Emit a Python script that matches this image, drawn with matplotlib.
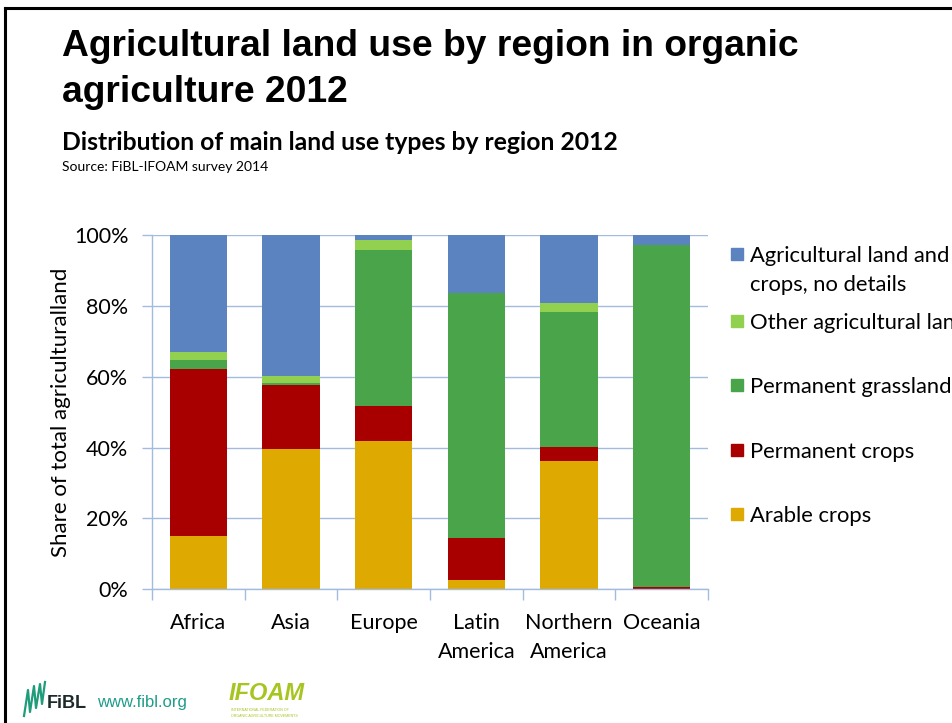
import matplotlib
matplotlib.use("Agg")
import matplotlib.pyplot as plt
from matplotlib.patches import Rectangle
import numpy as np

regions = ["Africa", "Asia", "Europe", "Latin\nAmerica", "Northern\nAmerica", "Oceania"]

# shares in percent, bottom to top
arable = [15.0, 39.5, 41.9, 2.6, 36.3, 0.1]
permanent_crops = [47.1, 18.2, 9.8, 12.0, 4.0, 0.6]
grassland = [2.6, 0.5, 44.1, 68.9, 38.1, 96.5]
other_land = [2.2, 2.1, 2.8, 0.2, 2.4, 0.0]
no_details = [33.1, 39.7, 1.4, 16.3, 19.2, 2.8]

series = [arable, permanent_crops, grassland, other_land, no_details]
labels = ["Arable crops", "Permanent crops", "Permanent grassland",
          "Other agricultural land", "Agricultural land and\ncrops, no details"]
colors = ["#DEA900", "#A80000", "#4AA44A", "#92D050", "#5B83C0"]

yticks = [0, 20, 40, 60, 80, 100]
ytick_labels = ["0%", "20%", "40%", "60%", "80%", "100%"]

body_font = "Lato"
axis_color = "#A4BBE0"

fig = plt.figure(figsize=(9.53, 7.23), dpi=100)
W, H = 953.0, 723.0

# slide frame
fig.add_artist(plt.Line2D([5 / W, 5 / W], [0, 1 - 8 / H], color="black", lw=2.2))
fig.add_artist(plt.Line2D([5 / W, 1], [1 - 8 / H, 1 - 8 / H], color="black", lw=2.2))

fig.text(62 / W, 1 - 47 / H, "Agricultural land use by region in organic",
         family="Liberation Sans", weight="bold", fontsize=26.8, va="center")
fig.text(62 / W, 1 - 92 / H, "agriculture 2012",
         family="Liberation Sans", weight="bold", fontsize=26.8, va="center")
fig.text(62 / W, 1 - 142 / H, "Distribution of main land use types by region 2012",
         family=body_font, weight="bold", fontsize=17.8, va="center")
fig.text(62 / W, 1 - 167 / H, "Source: FiBL-IFOAM survey 2014",
         family=body_font, fontsize=10, va="center")

ax = fig.add_axes([152 / W, 1 - 589.3 / H, 556 / W, 354.3 / H])
x = np.arange(len(regions))
bottom = np.zeros(len(regions))
for vals, col in zip(series, colors):
    ax.bar(x, vals, width=0.62, bottom=bottom, color=col, linewidth=0, zorder=2)
    bottom += np.array(vals)

ax.set_xlim(-0.5, len(regions) - 0.5)
ax.set_ylim(0, 100)
ax.set_yticks(yticks)
ax.set_yticklabels(ytick_labels, family=body_font, fontsize=15.5)
ax.yaxis.grid(True, color=axis_color, lw=1, zorder=1)
ax.set_xticks(x)
ax.set_xticklabels(regions, family=body_font, fontsize=15.5, linespacing=1.55, va="top")
ax.set_xticks(np.arange(len(regions) + 1) - 0.5, minor=True)
ax.tick_params(axis="x", which="major", length=0, pad=17)
ax.tick_params(axis="x", which="minor", length=8, color=axis_color, width=1)
ax.tick_params(axis="y", length=7, color=axis_color, width=1, pad=10)
for s in ["top", "right"]:
    ax.spines[s].set_visible(False)
for s in ["left", "bottom"]:
    ax.spines[s].set_color(axis_color)
    ax.spines[s].set_linewidth(1)
ax.set_ylabel("Share of total agriculturalland", family=body_font, fontsize=16,
              labelpad=2)

# legend, top entry first (text runs off the slide edge as in the original)
legend_y = [254, 321, 385, 450, 514]
for yy, lab, col in zip(legend_y, labels[::-1], colors[::-1]):
    fig.add_artist(Rectangle((731 / W, 1 - (yy + 6) / H), 12 / W, 12 / H,
                             color=col, transform=fig.transFigure))
    for i, line in enumerate(lab.split("\n")):
        fig.text(750 / W, 1 - (yy + 29 * i) / H, line, family=body_font,
                 fontsize=15.8, va="center_baseline")

# logos at the bottom
zig_x = [24, 28, 30, 34, 36, 40, 42, 45]
zig_y = [716, 690, 712, 686, 708, 684, 704, 682]
fig.add_artist(plt.Line2D([v / W for v in zig_x], [1 - v / H for v in zig_y],
                          color="#1F9C7A", lw=1.6))
fig.text(47 / W, 1 - 703 / H, "FiBL", family="Liberation Sans", weight="bold",
         fontsize=13, color="#1E2A2A", va="center")
fig.text(97 / W, 1 - 703 / H, "www.fibl.org", family="Liberation Sans",
         fontsize=12, color="#1F9C8A", va="center")
fig.text(229 / W, 1 - 694 / H, "IFOAM", family="Liberation Sans", weight="bold",
         style="italic", fontsize=17, color="#A7C520", va="center")
fig.text(231 / W, 1 - 713 / H, "INTERNATIONAL FEDERATION OF\nORGANIC AGRICULTURE MOVEMENTS",
         family="Liberation Sans", fontsize=2.6, color="#A7C520", va="center",
         linespacing=1.4)

fig.savefig("out.png", dpi=100)
